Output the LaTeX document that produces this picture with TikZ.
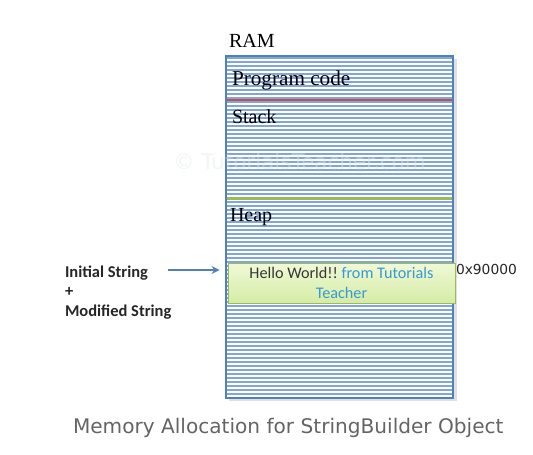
\documentclass[tikz,border=0pt]{standalone}
\usepackage{fontspec}
\setmainfont{Liberation Serif}
\newfontfamily\calfont{Carlito}
\newfontfamily\dvfont{DejaVu Sans}
\usetikzlibrary{arrows.meta}
\definecolor{ramblue}{RGB}{79,129,189}
\definecolor{stripe}{RGB}{130,165,218}
\definecolor{redline}{RGB}{192,80,77}
\definecolor{greenline}{RGB}{155,187,89}
\definecolor{gtop}{RGB}{240,249,214}
\definecolor{gbot}{RGB}{212,236,166}
\definecolor{txtblue}{RGB}{58,152,212}
\definecolor{hwdark}{RGB}{55,55,55}
\definecolor{capgray}{RGB}{100,100,100}
\definecolor{wmark}{RGB}{225,233,236}
\tikzset{
  lbl/.style={anchor=base west, inner sep=0pt, outer sep=0pt},
  serifl/.style={lbl, font=\fontsize{20}{24}\selectfont},
  leftl/.style={lbl, font=\calfont\bfseries\fontsize{16.5}{19.5}\selectfont, text=black!85},
}
\begin{document}
\begin{tikzpicture}[x=1pt,y=-1pt]
\useasboundingbox (0,0) rectangle (533,455);
% shadow
\fill[black, opacity=0.12] (229,59) rectangle (457,401);
% RAM block
\node (ram) [draw=none, fill=white, minimum width=227pt, minimum height=342pt, inner sep=0pt, outer sep=0pt] at (339.5,227) {};
\foreach \i in {0,...,84}{
  \draw[stripe, line width=1.3pt] (227,58+\i*4) -- (453,58+\i*4);
}
\draw[redline, line width=2.5pt] (227,100) -- (453,100);
\draw[greenline, line width=3pt] (227,198) -- (453,198);
\draw[ramblue, line width=2pt] (ram.south west) rectangle (ram.north east);
% texts inside RAM
\node (ramt) [serifl] at (229,47) {RAM};
\node (pc) [serifl, font=\fontsize{21.2}{24}\selectfont] at (232,85) {Program code};
\node (st) [serifl] at (232,123) {Stack};
\node (hp) [serifl] at (230,221) {Heap};
% string box
\node (hw) [draw=greenline, line width=0.8pt, top color=gtop, bottom color=gbot,
  minimum width=227pt, minimum height=40pt, inner sep=0pt, align=center,
  font=\calfont\fontsize{16.2}{20}\selectfont] at (341.5,283)
  {\textcolor{hwdark}{Hello World!!}~\textcolor{txtblue}{from Tutorials}\\\textcolor{txtblue}{Teacher}};
\node (addr) [lbl, font=\dvfont\fontsize{13.8}{16}\selectfont, text=black!85] at (456,274) {0x90000};
% left labels
\node (l1) [leftl] at (65,277) {Initial String};
\node (l2) [leftl] at (65,296.5) {+};
\node (l3) [leftl] at (65,316) {Modified String};
\coordinate (as) at (168,270);
\coordinate (ae) at ([xshift=-8pt]hw.west |- as);
\draw[ramblue, line width=2.2pt, -{Stealth[length=8pt,width=8pt]}] (as) -- (ae);
% caption
\node (cap) [lbl, font=\dvfont\fontsize{20.1}{24}\selectfont, text=capgray] at (73,433) {Memory Allocation for StringBuilder Object};
% watermark
\node (wm) [lbl, font=\dvfont\fontsize{21.5}{25}\selectfont, text=wmark, opacity=0.45] at (173,169) {© TutorialsTeacher.com};
\end{tikzpicture}
\end{document}
